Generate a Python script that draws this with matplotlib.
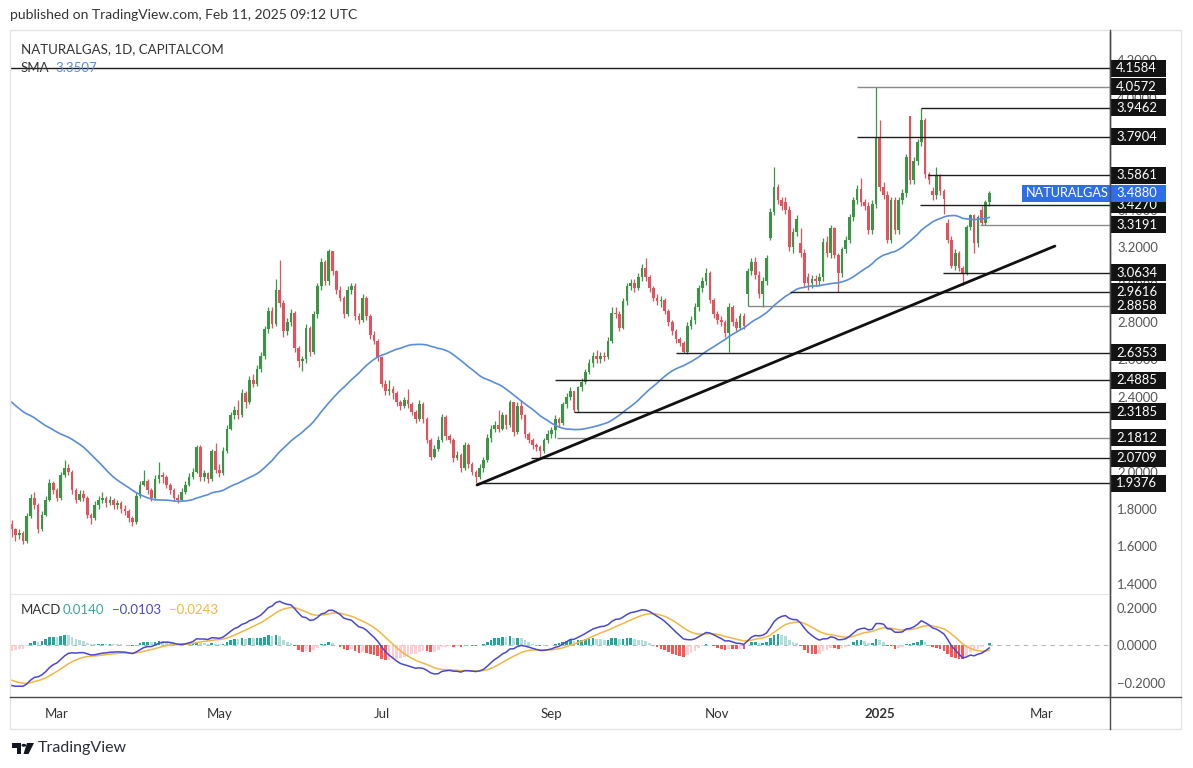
import numpy as np
import pandas as pd
import matplotlib
matplotlib.use("Agg")
import matplotlib.pyplot as plt
from matplotlib.transforms import blended_transform_factory
from matplotlib.patches import Rectangle, Polygon, Circle
from matplotlib.lines import Line2D

# ---------------- texts ----------------
published = "published on TradingView.com, Feb 11, 2025 09:12 UTC"
symbol_title = "NATURALGAS, 1D, CAPITALCOM"
sma_name = "SMA"
sma_value_text = "3.3507"
macd_name = "MACD"
macd_legend_values = ["0.0140", "\u22120.0103", "\u22120.0243"]
symbol_tag = "NATURALGAS"
last_price = 3.4880
first_date = "2024-02-14"

# closes before the visible window (only used to warm up SMA / MACD)
warmup_closes = [2.90, 2.88, 2.86, 2.89, 2.85, 2.82, 2.84, 2.80, 2.78,
                 2.74, 2.70, 2.66, 2.60, 2.56, 2.50, 2.44, 2.36, 2.32, 2.38, 2.44,
                 2.48, 2.52, 2.46, 2.50, 2.45, 2.50, 2.46, 2.42, 2.46, 2.50,
                 2.55, 2.62, 2.70, 2.75, 2.80, 2.85, 2.90, 2.95, 2.90, 2.75, 2.60,
                 2.50, 2.45, 2.40, 2.45, 2.50, 2.45, 2.40, 2.30, 2.20, 2.12, 2.05, 2.00,
                 1.95, 2.00, 2.02, 1.90, 1.88, 1.85, 1.82, 1.78, 1.72]

# daily candles (open, high, low, close)
feb24 = [(1.72, 1.74, 1.65, 1.69), (1.69, 1.70, 1.63, 1.66), (1.66, 1.69, 1.64, 1.67),
         (1.67, 1.68, 1.61, 1.63), (1.63, 1.78, 1.62, 1.76), (1.76, 1.88, 1.75, 1.86),
         (1.86, 1.89, 1.80, 1.82), (1.82, 1.83, 1.67, 1.69), (1.69, 1.79, 1.68, 1.77),
         (1.77, 1.87, 1.76, 1.85), (1.85, 1.96, 1.84, 1.94), (1.94, 1.95, 1.88, 1.90)]
mar24 = [(1.90, 1.91, 1.84, 1.86), (1.86, 2.00, 1.85, 1.98), (1.98, 2.06, 1.97, 2.02),
         (2.02, 2.04, 1.98, 2.00), (2.00, 2.01, 1.88, 1.90), (1.90, 1.91, 1.83, 1.85),
         (1.85, 1.90, 1.84, 1.88), (1.88, 1.90, 1.84, 1.86), (1.86, 1.87, 1.75, 1.77),
         (1.77, 1.78, 1.72, 1.75), (1.75, 1.84, 1.74, 1.82), (1.82, 1.87, 1.80, 1.85),
         (1.85, 1.89, 1.83, 1.86), (1.86, 1.87, 1.81, 1.83), (1.83, 1.87, 1.82, 1.85),
         (1.85, 1.86, 1.80, 1.82), (1.82, 1.85, 1.80, 1.83), (1.83, 1.84, 1.78, 1.80),
         (1.80, 1.82, 1.77, 1.79), (1.79, 1.80, 1.73, 1.75), (1.75, 1.76, 1.71, 1.73)]
apr24 = [(1.73, 1.89, 1.72, 1.87), (1.87, 1.95, 1.86, 1.93), (1.93, 2.01, 1.92, 1.95),
         (1.95, 1.96, 1.88, 1.90), (1.90, 1.91, 1.84, 1.86), (1.86, 1.98, 1.85, 1.96),
         (1.96, 2.05, 1.94, 1.98), (1.98, 2.00, 1.94, 1.97), (1.97, 1.98, 1.91, 1.93),
         (1.93, 1.94, 1.88, 1.90), (1.90, 1.91, 1.84, 1.86), (1.86, 1.88, 1.83, 1.85),
         (1.85, 1.91, 1.84, 1.89), (1.89, 1.95, 1.88, 1.93), (1.93, 1.99, 1.92, 1.97),
         (1.97, 2.02, 1.96, 2.00), (2.00, 2.14, 1.99, 2.13), (2.13, 2.14, 1.95, 1.97),
         (1.97, 2.01, 1.95, 1.99), (1.99, 2.00, 1.94, 1.96), (1.96, 2.12, 1.95, 2.11),
         (2.11, 2.15, 1.99, 2.01)]
may24 = [(2.01, 2.04, 1.97, 1.99), (1.99, 2.13, 1.98, 2.11), (2.11, 2.25, 2.10, 2.23),
         (2.23, 2.32, 2.22, 2.30), (2.30, 2.35, 2.28, 2.33), (2.33, 2.38, 2.28, 2.30),
         (2.30, 2.44, 2.29, 2.42), (2.42, 2.43, 2.34, 2.37), (2.37, 2.51, 2.36, 2.49),
         (2.49, 2.52, 2.45, 2.47), (2.47, 2.57, 2.46, 2.55), (2.55, 2.64, 2.53, 2.62),
         (2.62, 2.78, 2.60, 2.76), (2.76, 2.88, 2.74, 2.86), (2.86, 2.88, 2.77, 2.79),
         (2.79, 3.03, 2.78, 2.97), (2.97, 3.13, 2.88, 2.90), (2.90, 2.92, 2.72, 2.75),
         (2.75, 2.82, 2.73, 2.80), (2.80, 2.87, 2.78, 2.85), (2.85, 2.86, 2.64, 2.66),
         (2.66, 2.67, 2.56, 2.59), (2.59, 2.62, 2.54, 2.60)]
jun24 = [(2.60, 2.79, 2.58, 2.77), (2.77, 2.78, 2.62, 2.64), (2.64, 2.86, 2.63, 2.84),
         (2.84, 3.01, 2.82, 2.99), (2.99, 3.14, 2.97, 3.12), (3.12, 3.13, 3.00, 3.02),
         (3.02, 3.19, 3.00, 3.18), (3.18, 3.18, 3.05, 3.07), (3.07, 3.08, 2.95, 2.97),
         (2.97, 2.99, 2.91, 2.93), (2.93, 2.94, 2.82, 2.84), (2.84, 2.99, 2.83, 2.97),
         (2.97, 3.01, 2.95, 2.99), (2.99, 3.01, 2.81, 2.83), (2.83, 2.85, 2.79, 2.81),
         (2.81, 2.95, 2.80, 2.93), (2.93, 2.94, 2.81, 2.83), (2.83, 2.84, 2.71, 2.73),
         (2.73, 2.75, 2.68, 2.70), (2.70, 2.71, 2.59, 2.61)]
jul24 = [(2.61, 2.62, 2.45, 2.47), (2.47, 2.49, 2.41, 2.43), (2.43, 2.49, 2.41, 2.44),
         (2.44, 2.46, 2.39, 2.42), (2.42, 2.43, 2.35, 2.37), (2.37, 2.38, 2.33, 2.35),
         (2.35, 2.40, 2.34, 2.38), (2.38, 2.44, 2.34, 2.36), (2.36, 2.37, 2.30, 2.32),
         (2.32, 2.33, 2.26, 2.28), (2.28, 2.38, 2.27, 2.36), (2.36, 2.37, 2.26, 2.28),
         (2.28, 2.29, 2.15, 2.17), (2.17, 2.18, 2.06, 2.08), (2.08, 2.14, 2.07, 2.12),
         (2.12, 2.19, 2.11, 2.17), (2.17, 2.31, 2.16, 2.29), (2.29, 2.30, 2.17, 2.19),
         (2.19, 2.20, 2.15, 2.17), (2.17, 2.18, 2.05, 2.07), (2.07, 2.11, 2.06, 2.09),
         (2.09, 2.10, 2.00, 2.02), (2.02, 2.16, 2.01, 2.14)]
aug24 = [(2.14, 2.15, 2.02, 2.04), (2.04, 2.05, 1.98, 2.00), (2.00, 2.01, 1.9376, 1.97),
         (1.97, 2.04, 1.96, 2.02), (2.02, 2.08, 2.00, 2.06), (2.06, 2.20, 2.05, 2.18),
         (2.18, 2.25, 2.16, 2.23), (2.23, 2.27, 2.21, 2.25), (2.25, 2.33, 2.21, 2.23),
         (2.23, 2.32, 2.22, 2.30), (2.30, 2.31, 2.23, 2.25), (2.25, 2.38, 2.24, 2.37),
         (2.37, 2.37, 2.19, 2.21), (2.21, 2.37, 2.20, 2.35), (2.35, 2.38, 2.28, 2.30),
         (2.30, 2.31, 2.18, 2.20), (2.20, 2.21, 2.15, 2.17), (2.17, 2.18, 2.12, 2.14),
         (2.14, 2.15, 2.11, 2.13), (2.13, 2.14, 2.0709, 2.11), (2.11, 2.18, 2.10, 2.17),
         (2.17, 2.22, 2.15, 2.20)]
sep24 = [(2.20, 2.24, 2.18, 2.22), (2.22, 2.30, 2.1812, 2.28), (2.28, 2.29, 2.24, 2.26),
         (2.26, 2.37, 2.25, 2.36), (2.36, 2.42, 2.34, 2.40), (2.40, 2.45, 2.38, 2.43),
         (2.43, 2.43, 2.3185, 2.33), (2.33, 2.46, 2.32, 2.45), (2.45, 2.50, 2.43, 2.48),
         (2.48, 2.55, 2.47, 2.53), (2.53, 2.60, 2.52, 2.58), (2.58, 2.64, 2.56, 2.62),
         (2.62, 2.65, 2.58, 2.60), (2.60, 2.64, 2.58, 2.62), (2.62, 2.64, 2.59, 2.61),
         (2.61, 2.72, 2.60, 2.70), (2.70, 2.88, 2.69, 2.85), (2.85, 2.88, 2.82, 2.84),
         (2.84, 2.86, 2.75, 2.77), (2.77, 2.93, 2.76, 2.91), (2.91, 3.01, 2.89, 2.99)]
oct24 = [(2.99, 3.03, 2.97, 3.01), (3.01, 3.03, 2.96, 2.98), (2.98, 3.06, 2.97, 3.04),
         (3.04, 3.11, 3.02, 3.09), (3.09, 3.14, 3.02, 3.04), (3.04, 3.05, 2.96, 2.98),
         (2.98, 2.99, 2.91, 2.93), (2.93, 2.95, 2.89, 2.91), (2.91, 2.94, 2.88, 2.92),
         (2.92, 2.93, 2.84, 2.86), (2.86, 2.87, 2.78, 2.80), (2.80, 2.81, 2.73, 2.75),
         (2.75, 2.76, 2.69, 2.71), (2.71, 2.72, 2.67, 2.69), (2.69, 2.70, 2.6353, 2.64),
         (2.64, 2.80, 2.63, 2.78), (2.78, 2.83, 2.76, 2.81), (2.81, 2.90, 2.79, 2.88),
         (2.88, 3.00, 2.86, 2.98), (2.98, 3.04, 2.96, 3.02), (3.02, 3.09, 3.00, 3.06),
         (3.06, 3.07, 2.90, 2.92), (2.92, 2.93, 2.82, 2.84)]
nov24 = [(2.84, 2.86, 2.79, 2.81), (2.81, 2.83, 2.78, 2.80), (2.80, 2.81, 2.72, 2.74),
         (2.74, 2.90, 2.64, 2.88), (2.88, 2.89, 2.78, 2.80), (2.80, 2.82, 2.75, 2.77),
         (2.77, 2.85, 2.76, 2.83), (2.83, 2.85, 2.76, 2.78), (2.95, 3.09, 2.8858, 3.07),
         (3.07, 3.14, 3.05, 3.12), (3.12, 3.15, 3.03, 3.05), (3.05, 3.07, 2.93, 2.95),
         (2.95, 3.04, 2.88, 3.02), (3.02, 3.16, 3.00, 3.14), (3.25, 3.41, 3.24, 3.39),
         (3.39, 3.63, 3.37, 3.52), (3.52, 3.54, 3.43, 3.45), (3.45, 3.47, 3.40, 3.42),
         (3.44, 3.47, 3.38, 3.40), (3.40, 3.42, 3.18, 3.20), (3.20, 3.30, 3.17, 3.28)]
dec24 = [(3.28, 3.37, 3.26, 3.35), (3.22, 3.30, 3.15, 3.17), (3.17, 3.19, 2.99, 3.01),
         (3.04, 3.06, 2.97, 3.01), (3.01, 3.05, 2.98, 3.03), (3.03, 3.05, 2.99, 3.02),
         (3.02, 3.06, 3.00, 3.04), (3.04, 3.25, 3.02, 3.23), (3.23, 3.26, 3.15, 3.17),
         (3.17, 3.32, 3.14, 3.30), (3.30, 3.31, 3.14, 3.16), (3.16, 3.17, 2.9616, 3.06),
         (3.06, 3.20, 3.04, 3.19), (3.19, 3.26, 3.17, 3.24), (3.24, 3.38, 3.22, 3.36),
         (3.36, 3.47, 3.34, 3.45), (3.45, 3.53, 3.43, 3.51), (3.51, 3.57, 3.42, 3.44),
         (3.44, 3.46, 3.40, 3.42), (3.42, 3.44, 3.27, 3.29), (3.29, 3.45, 3.27, 3.43),
         (3.43, 4.0572, 3.41, 3.79)]
jan25 = [(3.79, 3.88, 3.50, 3.52), (3.52, 3.55, 3.46, 3.48), (3.48, 3.50, 3.22, 3.24),
         (3.24, 3.47, 3.22, 3.45), (3.45, 3.47, 3.27, 3.29), (3.29, 3.47, 3.27, 3.45),
         (3.45, 3.51, 3.43, 3.49), (3.49, 3.70, 3.47, 3.68), (3.90, 3.90, 3.54, 3.56),
         (3.56, 3.68, 3.54, 3.66), (3.66, 3.78, 3.64, 3.76), (3.76, 3.9462, 3.74, 3.88),
         (3.88, 3.89, 3.57, 3.59), (3.59, 3.60, 3.54, 3.56), (3.50, 3.52, 3.45, 3.48),
         (3.48, 3.63, 3.46, 3.58), (3.58, 3.59, 3.48, 3.50), (3.50, 3.51, 3.38, 3.46),
         (3.33, 3.35, 3.22, 3.24), (3.24, 3.26, 3.09, 3.10), (3.10, 3.19, 3.08, 3.17),
         (3.17, 3.18, 3.07, 3.09), (3.09, 3.10, 3.00, 3.06)]
feb25 = [(3.06, 3.32, 3.05, 3.31), (3.31, 3.38, 3.29, 3.37), (3.37, 3.38, 3.17, 3.22),
         (3.22, 3.37, 3.20, 3.36), (3.40, 3.42, 3.3191, 3.33), (3.33, 3.45, 3.32, 3.44),
         (3.44, 3.50, 3.42, 3.488)]

# horizontal levels drawn on the chart and the bar where each one starts
levels = [4.1584, 4.0572, 3.9462, 3.7904, 3.5861, 3.4270, 3.3191, 3.0634,
          2.9616, 2.8858, 2.6353, 2.4885, 2.3185, 2.1812, 2.0709, 1.9376]
level_from_bar = [-0.45, 224.0, 241.0, 224.0, 242.8, 240.7, 256.6, 246.8,
                  206.2, 195.1, 176.0, 144.0, 149.0, 144.5, 137.6, 123.3]
level_grey = [False, True, False, False, False, False, True, False,
              False, True, False, False, False, True, False, False]

# rising trend line (bar, price)
trend_bars = [123.3, 276.4]
trend_prices = [1.928, 3.206]

price_ticks = [1.4, 1.6, 1.8, 2.0, 2.2, 2.4, 2.6, 2.8, 3.0, 3.2, 3.4, 3.6, 3.8, 4.0, 4.2]
macd_ticks = [-0.2, 0.0, 0.2]
month_tick_dates = ["2024-03-01", "2024-05-01", "2024-07-01", "2024-09-02",
                    "2024-11-01", "2025-01-01", "2025-03-03"]
month_tick_labels = ["Mar", "May", "Jul", "Sep", "Nov", "2025", "Mar"]

# ---------------- styling ----------------
W, H = 1193, 768
GREEN = "#3c9447"
RED = "#e2525f"
SMA_C = "#5a8ddb"
MACD_C = "#4b47d3"
SIG_C = "#f3b744"
TXT = "#333333"
FONT = ["Lato", "DejaVu Sans"]
plt.rcParams["font.family"] = FONT

fig = plt.figure(figsize=(W / 100, H / 100), dpi=100)
fig.patch.set_facecolor("white")


def fxy(px, py):
    return px / W, 1 - py / H


# ---------------- data prep ----------------
bars = feb24 + mar24 + apr24 + may24 + jun24 + jul24 + aug24 + sep24 + oct24 + nov24 + dec24 + jan25 + feb25
o = np.array([b[0] for b in bars])
h = np.array([b[1] for b in bars])
l = np.array([b[2] for b in bars])
c = np.array([b[3] for b in bars])
n = len(bars)
x = np.arange(n)
k = len(warmup_closes)

allc = pd.Series(warmup_closes + list(c))
sma = allc.rolling(50).mean().to_numpy()[k:]
ema12 = allc.ewm(span=12, adjust=False).mean()
ema26 = allc.ewm(span=26, adjust=False).mean()
macd_all = ema12 - ema26
sig_all = macd_all.ewm(span=9, adjust=False).mean()
hist_all = (macd_all - sig_all).to_numpy()
macd = macd_all.to_numpy()[k:]
sig = sig_all.to_numpy()[k:]
hist = hist_all[k:]
prev = hist_all[k - 1:-1]
hcol = np.where(hist >= 0,
                np.where(hist >= prev, "#26a69a", "#b2dfdb"),
                np.where(hist < prev, "#ff5252", "#ffcdd2"))

cal = pd.bdate_range(first_date, "2025-04-30")
tick_pos = cal.searchsorted(pd.to_datetime(month_tick_dates))

# ---------------- axes ----------------
x0, x1 = 10, 1110
ax = fig.add_axes([x0 / W, 1 - 594 / H, (x1 - x0) / W, (594 - 32) / H])
axm = fig.add_axes([x0 / W, 1 - 697 / H, (x1 - x0) / W, (697 - 596) / H], sharex=ax)

XL = (-0.45, 291.0)
ax.set_xlim(*XL)
ax.set_ylim(1.345, 4.351)
axm.set_ylim(-0.272, 0.261)

for a in (ax, axm):
    a.set_facecolor("white")
    for s in ("top", "left"):
        a.spines[s].set_visible(False)
    a.spines["right"].set_color("#4a4a4a")
    a.spines["right"].set_linewidth(1.0)
    a.yaxis.tick_right()
    a.tick_params(axis="y", length=0, pad=5, labelsize=9.4, labelcolor="#555555")
ax.spines["bottom"].set_color("#e6e6e6")
axm.spines["bottom"].set_visible(False)
ax.tick_params(axis="x", length=0, labelbottom=False)

ax.set_yticks(price_ticks)
ax.set_yticklabels([f"{v:.4f}" for v in price_ticks])
axm.set_yticks(macd_ticks)
axm.set_yticklabels([f"{v:.4f}".replace("-", "\u2212") for v in macd_ticks])

axm.set_xticks(tick_pos)
axm.set_xticklabels(month_tick_labels)
axm.tick_params(axis="x", length=0, pad=8, labelsize=9.5, labelcolor=TXT)
for lab in axm.get_xticklabels():
    if lab.get_text() == "2025":
        lab.set_fontweight("bold")

# ---------------- candles ----------------
up = c >= o
col = np.where(up, GREEN, RED)
ax.vlines(x, l, h, colors=col, linewidth=0.9, zorder=3)
ax.bar(x, np.maximum(np.abs(c - o), 0.004), bottom=np.minimum(o, c), width=0.7,
       color=col, linewidth=0, zorder=4)

# SMA
ax.plot(x, sma, color=SMA_C, lw=1.2, zorder=5)

# levels
for lv, st, gr in zip(levels, level_from_bar, level_grey):
    ax.hlines(lv, st, XL[1], colors="#8a8a8a" if gr else "#1e1e1e", linewidth=1.0, zorder=6)

# trend line
ax.plot(trend_bars, trend_prices, color="#111111", lw=2.0, zorder=7, solid_capstyle="round")

# right-side price labels
tr = blended_transform_factory(ax.transAxes, ax.transData)
bw = 55 / (x1 - x0)
bh = 17 / 187.0
for lv in levels:
    ax.add_patch(Rectangle((1.0 + 1 / (x1 - x0), lv - bh / 2), bw, bh, transform=tr,
                           facecolor="#131313", edgecolor="none", clip_on=False, zorder=20))
    ax.text(1.0 + 6 / (x1 - x0), lv, f"{lv:.4f}", transform=tr, ha="left", va="center",
            color="white", fontsize=9.4, clip_on=False, zorder=21)

# current price tag
tag_c = "#2f6fe6"
ax.add_patch(Rectangle((1.0 - 88 / (x1 - x0), last_price - bh / 2), 88 / (x1 - x0), bh, transform=tr,
                       facecolor=tag_c, edgecolor="none", clip_on=False, zorder=22))
ax.text(1.0 - 84 / (x1 - x0), last_price, symbol_tag, transform=tr, ha="left", va="center",
        color="white", fontsize=9.2, clip_on=False, zorder=23)
ax.add_patch(Rectangle((1.0 + 1 / (x1 - x0), last_price - bh / 2), bw, bh, transform=tr,
                       facecolor=tag_c, edgecolor="none", clip_on=False, zorder=22))
ax.text(1.0 + 6 / (x1 - x0), last_price, f"{last_price:.4f}", transform=tr, ha="left", va="center",
        color="white", fontsize=9.4, clip_on=False, zorder=23)

# ---------------- MACD ----------------
axm.axhline(0, color="#b8b8b8", lw=0.8, ls=(0, (4, 4)), zorder=1)
axm.bar(x, hist, width=0.7, color=hcol, linewidth=0, zorder=2)
axm.plot(x, sig, color=SIG_C, lw=1.1, zorder=3)
axm.plot(x, macd, color=MACD_C, lw=1.1, zorder=4)

# ---------------- texts ----------------
fig.text(*fxy(10, 15), published, fontsize=10.0, color=TXT, va="center", ha="left")
fig.text(*fxy(21, 49), symbol_title, fontsize=9.5, color=TXT, va="center", ha="left", zorder=30)
fig.text(*fxy(21, 68), sma_name, fontsize=9.5, color=TXT, va="center", ha="left", zorder=30)
fig.text(*fxy(55, 68), sma_value_text, fontsize=9.5, color=SMA_C, va="center", ha="left", zorder=30)

fig.text(*fxy(21, 610), macd_name, fontsize=9.5, color=TXT, va="center", ha="left", zorder=30)
for xx, t, cc in zip([63, 112, 169], macd_legend_values, ["#3aa99b", MACD_C, SIG_C]):
    fig.text(*fxy(xx, 610), t, fontsize=9.5, color=cc, va="center", ha="left", zorder=30)

# frame lines
fig.add_artist(Rectangle(fxy(10, 729), (1181 - 10) / W, (729 - 30) / H, transform=fig.transFigure,
                         facecolor="none", edgecolor="#e4e4e4", lw=1.0))
fig.add_artist(Line2D([10 / W, 1181 / W], [1 - 697 / H] * 2, color="#4a4a4a", lw=1.0))
fig.add_artist(Line2D([1110 / W] * 2, [1 - 30 / H, 1 - 729 / H], color="#4a4a4a", lw=1.0))

# footer logo
def ppoly(pts, **kw):
    fig.add_artist(Polygon([fxy(px, py) for px, py in pts], closed=True,
                           transform=fig.transFigure, **kw))

ppoly([(12, 743), (21, 743), (21, 754), (16.5, 754), (16.5, 747.5), (12, 747.5)], facecolor="#131722", edgecolor="none")
fig.add_artist(Circle(fxy(23.8, 745.3), 2.3 / W, transform=fig.transFigure, facecolor="#131722", edgecolor="none"))
ppoly([(27, 743), (34, 743), (28.5, 754), (23.5, 754)], facecolor="#131722", edgecolor="none")
fig.text(*fxy(38, 748), "TradingView", fontsize=11.5, color="#2a2e39", va="center", ha="left")

fig.savefig("out.png", dpi=100, facecolor="white")
